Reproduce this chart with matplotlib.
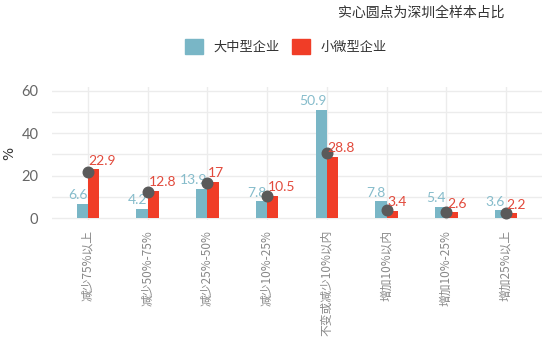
import matplotlib
matplotlib.use('Agg')
import matplotlib.pyplot as plt
import numpy as np
from matplotlib.patches import Patch

categories = ['减少75%以上', '减少50%-75%', '减少25%-50%', '减少10%-25%',
              '不变或减少10%以内', '增加10%以内', '增加10%-25%', '增加25%以上']
large_mid = [6.6, 4.2, 13.9, 7.8, 50.9, 7.8, 5.4, 3.6]
small_micro = [22.9, 12.8, 17, 10.5, 28.8, 3.4, 2.6, 2.2]
shenzhen_all = [21.6, 12.3, 16.7, 10.5, 30.8, 3.7, 2.6, 2.3]
series_names = ['大中型企业', '小微型企业']
note = '实心圆点为深圳全样本占比'

blue = '#79b6c6'
red = '#f03d27'
blue_txt = '#86bccb'
red_txt = '#e24a3c'
cjk = ['Noto Sans CJK SC', 'DejaVu Sans']

fig = plt.figure(figsize=(5.5, 3.63), dpi=100)
ax = fig.add_axes([0.095, 0.3936, 0.890, 0.368])

x = np.arange(len(categories))
w = 0.19
ax.bar(x - w / 2, large_mid, w, color=blue, zorder=2)
ax.bar(x + w / 2, small_micro, w, color=red, zorder=2)
ax.scatter(x, shenzhen_all, s=58, color='#5a5a5a', zorder=4)

for i in range(len(x)):
    ax.annotate(f'{large_mid[i]:g}', (x[i], large_mid[i]), xytext=(-0.5, 2),
                textcoords='offset points', ha='right', va='bottom',
                color=blue_txt, fontsize=10, family='Lato', zorder=3)
    ax.annotate(f'{small_micro[i]:g}', (x[i], small_micro[i]), xytext=(0.5, 2),
                textcoords='offset points', ha='left', va='bottom',
                color=red_txt, fontsize=10, family='Lato', zorder=5)

ax.set_xlim(-0.6, 7.6)
ax.set_ylim(-1, 62)
ax.set_yticks([0, 20, 40, 60])
ax.set_yticks([10, 30, 50], minor=True)
ax.set_xticks(x)
ax.set_xticklabels(categories, rotation=90, fontsize=8.5, family=cjk, color='#888888')
for lab in ax.get_yticklabels():
    lab.set_family('Lato')
ax.tick_params(axis='y', which='both', length=0, labelsize=10.5, labelcolor='#666666', pad=10)
ax.tick_params(axis='x', length=0, pad=7)
ax.grid(True, which='both', color='#ececec', linewidth=1, zorder=0)
for s in ax.spines.values():
    s.set_visible(False)
ax.set_ylabel('%', fontsize=10, color='#333333', labelpad=4)

fig.text(0.918, 0.965, note, ha='right', va='center', fontsize=10,
         family=cjk, color='#333333')
handles = [Patch(color=blue), Patch(color=red)]
leg = fig.legend(handles, series_names, loc='center', bbox_to_anchor=(0.52, 0.872),
                 ncol=2, frameon=False, prop={'family': cjk, 'size': 9.5},
                 handlelength=1.4, handleheight=1.4, columnspacing=0.9, handletextpad=0.8)
for t in leg.get_texts():
    t.set_color('#333333')

fig.savefig('out.png', dpi=100, facecolor='white')
